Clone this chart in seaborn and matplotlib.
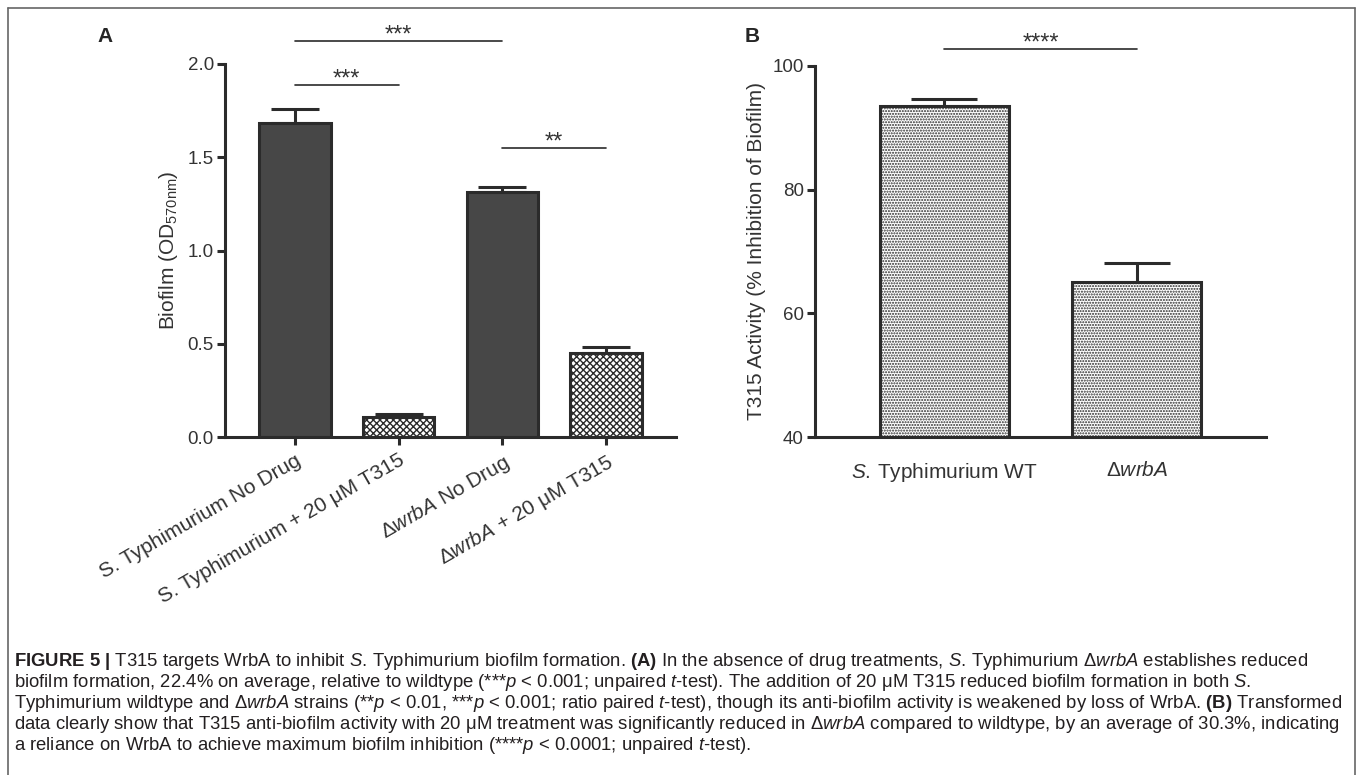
import numpy as np
import pandas as pd
import seaborn as sns
import matplotlib.pyplot as plt
from matplotlib.lines import Line2D

MU = "\u03bc"
S_IT = r"$\mathit{S.}\,$"

# panel A: biofilm OD570
a_labels = ["S. Typhimurium No Drug",
            "S. Typhimurium + 20 " + MU + "M T315",
            r"$\Delta\mathit{wrbA}$ No Drug",
            r"$\Delta\mathit{wrbA}$ + 20 " + MU + "M T315"]
a_means = [1.686, 0.109, 1.311, 0.452]
a_err = [0.072, 0.014, 0.028, 0.032]
a_sig = [(0, 2, 2.123, "***"), (0, 1, 1.887, "***"), (2, 3, 1.550, "**")]

# panel B: T315 activity (% inhibition)
b_labels = [S_IT + "Typhimurium WT", r"$\Delta\mathit{wrbA}$"]
b_means = [93.5, 65.0]
b_err = [1.1, 3.1]
b_sig = [(0, 1, 102.7, "****")]

caption = [
    r"$\mathbf{FIGURE\ 5\ |}$ T315 targets WrbA to inhibit " + S_IT + r"Typhimurium biofilm formation. $\mathbf{(A)}$ In the absence of drug treatments, " + S_IT + r"Typhimurium $\Delta\mathit{wrbA}$ establishes reduced",
    r"biofilm formation, 22.4% on average, relative to wildtype (***$\mathit{p}$ < 0.001; unpaired $\mathit{t}$-test). The addition of 20 " + MU + r"M T315 reduced biofilm formation in both $\mathit{S.}$",
    r"Typhimurium wildtype and $\Delta\mathit{wrbA}$ strains (**$\mathit{p}$ < 0.01, ***$\mathit{p}$ < 0.001; ratio paired $\mathit{t}$-test), though its anti-biofilm activity is weakened by loss of WrbA. $\mathbf{(B)}$ Transformed",
    r"data clearly show that T315 anti-biofilm activity with 20 " + MU + r"M treatment was significantly reduced in $\Delta\mathit{wrbA}$ compared to wildtype, by an average of 30.3%, indicating",
    r"a reliance on WrbA to achieve maximum biofilm inhibition (****$\mathit{p}$ < 0.0001; unpaired $\mathit{t}$-test).",
]

sns.set_style("ticks")
plt.rcParams["font.family"] = ["Liberation Sans", "DejaVu Sans"]
plt.rcParams["mathtext.fontset"] = "custom"
plt.rcParams["mathtext.rm"] = "Liberation Sans"
plt.rcParams["mathtext.it"] = "Liberation Sans:italic"
plt.rcParams["mathtext.bf"] = "Liberation Sans:bold"
plt.rcParams["hatch.color"] = "#2b2b2b"
plt.rcParams["hatch.linewidth"] = 1.0

W, H = 1357, 775
ink = "#2b2b2b"
txt = "#333333"
fig = plt.figure(figsize=(W / 100, H / 100), dpi=100)

axA = fig.add_axes([225 / W, 1 - 437 / H, 451 / W, 373 / H])
axB = fig.add_axes([815 / W, 1 - 437 / H, 451 / W, 371 / H])

dfA = pd.DataFrame({"cond": a_labels, "od": a_means})
sns.barplot(data=dfA, x="cond", y="od", hue="cond", palette=["#474747", "white", "#474747", "white"],
            width=0.69, saturation=1, edgecolor=ink, linewidth=2.2, legend=False, ax=axA)
for p, h in zip(axA.patches, [None, "xxxxx", None, "xxxxx"]):
    p.set_hatch(h)
axA.errorbar(range(4), a_means, yerr=[np.zeros(4), a_err], fmt="none", ecolor=ink,
             elinewidth=2.2, capsize=17, capthick=2.2, zorder=3)

dfB = pd.DataFrame({"strain": b_labels, "act": b_means})
sns.barplot(data=dfB, x="strain", y="act", hue="strain", palette=["white", "white"],
            width=0.67, saturation=1, edgecolor=ink, linewidth=2.2, legend=False, ax=axB)
for p in axB.patches:
    p.set_hatch("......")
axB.errorbar(range(2), b_means, yerr=[np.zeros(2), b_err], fmt="none", ecolor=ink,
             elinewidth=2.2, capsize=24, capthick=2.2, zorder=3)

axA.set_ylim(0, 2)
axA.set_yticks([0, 0.5, 1.0, 1.5, 2.0])
axA.set_yticklabels(["0.0", "0.5", "1.0", "1.5", "2.0"])
axA.set_xlim(-0.675, 3.675)
axB.set_ylim(40, 100)
axB.set_yticks([40, 60, 80, 100])
axB.set_xlim(-0.67, 1.67)

for ax in (axA, axB):
    sns.despine(ax=ax)
    for s in ("left", "bottom"):
        ax.spines[s].set_linewidth(2.2)
        ax.spines[s].set_color(ink)
    ax.tick_params(axis="y", length=6, width=2.2, color=ink, labelsize=13.5, labelcolor=txt, pad=2)
    ax.set_xlabel("")

axA.tick_params(axis="x", length=6, width=2.2, color=ink, labelsize=15, labelcolor=txt, pad=4)
plt.setp(axA.get_xticklabels(), rotation=30, ha="right", rotation_mode="anchor")
axB.tick_params(axis="x", length=0, labelsize=15, labelcolor=txt, pad=17)

axA.set_ylabel(r"Biofilm (OD$_{\mathrm{570nm}}$)", fontsize=15, color=txt)
axA.yaxis.set_label_coords(-0.10, 0.5)
axB.set_ylabel("T315 Activity (% Inhibition of Biofilm)", fontsize=15, color=txt)
axB.yaxis.set_label_coords(-0.108, 0.5)

for ax, sigs in ((axA, a_sig), (axB, b_sig)):
    for x0, x1, y, s in sigs:
        ax.plot([x0, x1], [y, y], color=ink, lw=1.2, clip_on=False)
        ax.annotate(s, ((x0 + x1) / 2, y), xytext=(0, -0.5), textcoords="offset points",
                    ha="center", va="baseline", fontsize=17, color=txt, annotation_clip=False)

fig.text(105 / W, 1 - 37 / H, "A", fontsize=15, fontweight="bold", ha="center", va="center")
fig.text(752 / W, 1 - 37 / H, "B", fontsize=15, fontweight="bold", ha="center", va="center")

for i, line in enumerate(caption):
    fig.text(14 / W, 1 - (666 + i * 21) / H, line, fontsize=13.3, color="#231f20",
             ha="left", va="baseline")

frame = dict(color="#666666", lw=1.2, transform=fig.transFigure)
fig.add_artist(Line2D([8 / W, 1355 / W], [1 - 8 / H, 1 - 8 / H], **frame))
fig.add_artist(Line2D([8 / W, 8 / W], [0, 1 - 8 / H], **frame))
fig.add_artist(Line2D([1355 / W, 1355 / W], [0, 1 - 8 / H], **frame))

fig.savefig("out.png", dpi=100)
